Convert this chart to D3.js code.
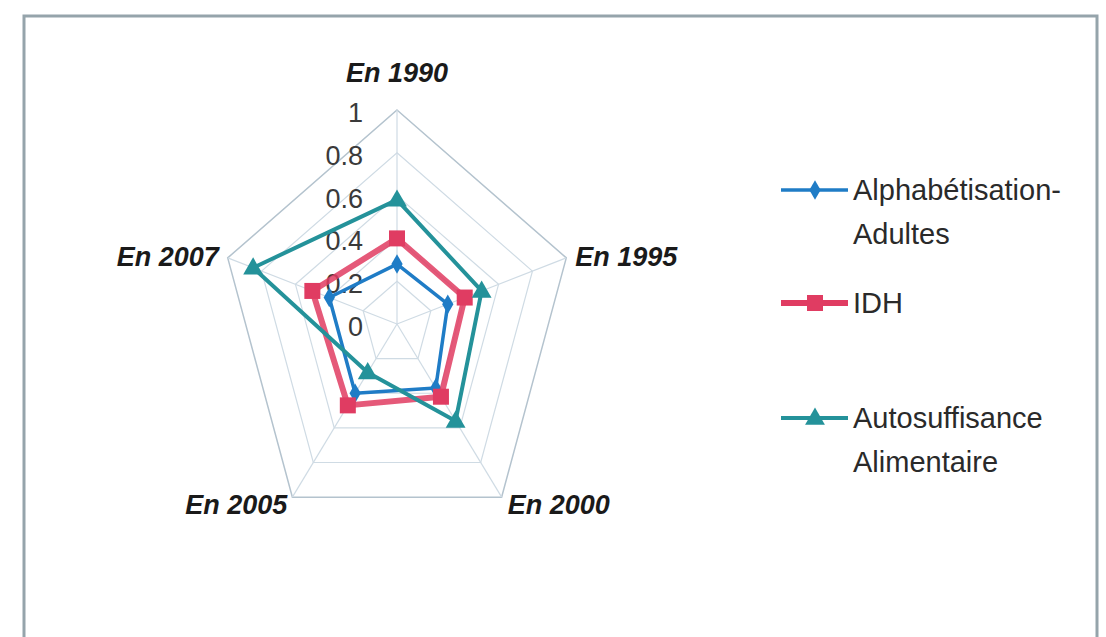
<!DOCTYPE html>
<html>
<head>
<meta charset="utf-8">
<script src="https://cdn.jsdelivr.net/npm/d3@7"></script>
<style>
	body { margin: 0; background: #fff; }
	svg { display: block; }
	.tick-lbl { font-family: "Liberation Sans", Arial, sans-serif; font-size: 27px; fill: #3a3a3a; }
	.axis-lbl { font-family: "Liberation Sans", Arial, sans-serif; font-size: 27px; font-weight: bold; font-style: italic; fill: #1a1a1a; }
	.legend-lbl { font-family: "Liberation Sans", Arial, sans-serif; font-size: 29px; fill: #2a2a2a; }
</style>
</head>
<body>
<svg id="radar" width="1106" height="637"></svg>
<script>
// data
const axes = ["En 1990", "En 1995", "En 2000", "En 2005", "En 2007"]
const alphabetisation = [0.28, 0.30, 0.37, 0.40, 0.40]
const idh = [0.40, 0.40, 0.42, 0.47, 0.50]
const autosuffisance = [0.58, 0.50, 0.56, 0.28, 0.85]
const ticks = [0, 0.2, 0.4, 0.6, 0.8, 1]
const seriesNames = [["Alphabétisation-", "Adultes"], ["IDH"], ["Autosuffisance", "Alimentaire"]]

const svg = d3.select("#radar")
const cx = 397, cy = 324
const rX = 178, rY = 214 // the picture is squeezed sideways

const scaleX = d3.scaleLinear().domain([0, 1]).range([0, rX])
const scaleY = d3.scaleLinear().domain([0, 1]).range([0, rY])
const angle = d3.scaleLinear().domain([0, axes.length]).range([0, 2 * Math.PI])

function px(i, v) { return cx + scaleX(v) * Math.sin(angle(i)) }
function py(i, v) { return cy - scaleY(v) * Math.cos(angle(i)) }

// frame
svg.append("rect")
	.attr("x", 24).attr("y", 16)
	.attr("width", 1073).attr("height", 700)
	.attr("fill", "none")
	.attr("stroke", "#95a4ab")
	.attr("stroke-width", 3)

const grid = svg.append("g")

// rings
ticks.filter(t => t > 0).forEach(t => {
	const pts = axes.map((a, i) => [px(i, t), py(i, t)])
	grid.append("path")
		.attr("d", d3.line().curve(d3.curveLinearClosed)(pts))
		.attr("fill", "none")
		.attr("stroke", t === 1 ? "#b4c3ce" : "#cfdbe4")
		.attr("stroke-width", t === 1 ? 1.5 : 1.2)
})

// spokes
axes.forEach((a, i) => {
	grid.append("line")
		.attr("x1", cx).attr("y1", cy)
		.attr("x2", px(i, 1)).attr("y2", py(i, 1))
		.attr("stroke", "#cfdbe4")
		.attr("stroke-width", 1.2)
})

// tick labels along the top spoke
svg.append("g").selectAll("text")
	.data(ticks)
	.enter().append("text")
	.attr("class", "tick-lbl")
	.attr("text-anchor", "end")
	.attr("x", cx - 34)
	.attr("y", d => cy - scaleY(d) + 12)
	.text(d => d3.format("~g")(d))

// axis labels, nudged per side like Excel does
const lblDx = [0, 9, 6, -5, -9]
const lblDy = [-28, 8, 17, 17, 8]
const lblAnchor = ["middle", "start", "start", "end", "end"]
svg.append("g").selectAll("text")
	.data(axes)
	.enter().append("text")
	.attr("class", "axis-lbl")
	.attr("text-anchor", (d, i) => lblAnchor[i])
	.attr("x", (d, i) => px(i, 1) + lblDx[i])
	.attr("y", (d, i) => py(i, 1) + lblDy[i])
	.text(d => d)

const colors = ["#1f7cc6", "#e03c62", "#24929a"]
const widths = [3.5, 6, 4]
const seriesData = [alphabetisation, idh, autosuffisance]

function marker(g, k, x, y) {
	if (k === 0) {
		g.append("path").attr("d", d3.symbol(d3.symbolDiamond, 110)())
			.attr("transform", `translate(${x},${y})`).attr("fill", colors[k])
	} else if (k === 1) {
		g.append("rect").attr("x", x - 8).attr("y", y - 8)
			.attr("width", 16).attr("height", 16).attr("fill", colors[k])
	} else {
		g.append("path").attr("d", d3.symbol(d3.symbolTriangle, 170)())
			.attr("transform", `translate(${x},${y + 1})`).attr("fill", colors[k])
	}
}

const plot = svg.append("g")
seriesData.forEach((vals, k) => {
	const pts = vals.map((v, i) => [px(i, v), py(i, v)])
	const g = plot.append("g")
	g.append("path")
		.attr("d", d3.line().curve(d3.curveLinearClosed)(pts))
		.attr("fill", "none")
		.attr("stroke", colors[k])
		.attr("stroke-width", widths[k])
		.attr("stroke-opacity", k === 1 ? 0.85 : 1)
		.attr("stroke-linejoin", "round")
	pts.forEach(p => marker(g, k, p[0], p[1]))
})

// legend
const legY = [190, 303, 418]
const legend = svg.append("g")
seriesNames.forEach((lines, k) => {
	const y = legY[k]
	legend.append("line")
		.attr("x1", 781).attr("x2", 848)
		.attr("y1", y).attr("y2", y)
		.attr("stroke", colors[k])
		.attr("stroke-width", widths[k])
	marker(legend, k, 815, y)
	lines.forEach((t, j) => {
		legend.append("text")
			.attr("class", "legend-lbl")
			.attr("x", 853)
			.attr("y", y + 10 + j * 44)
			.text(t)
	})
})
</script>
</body>
</html>
